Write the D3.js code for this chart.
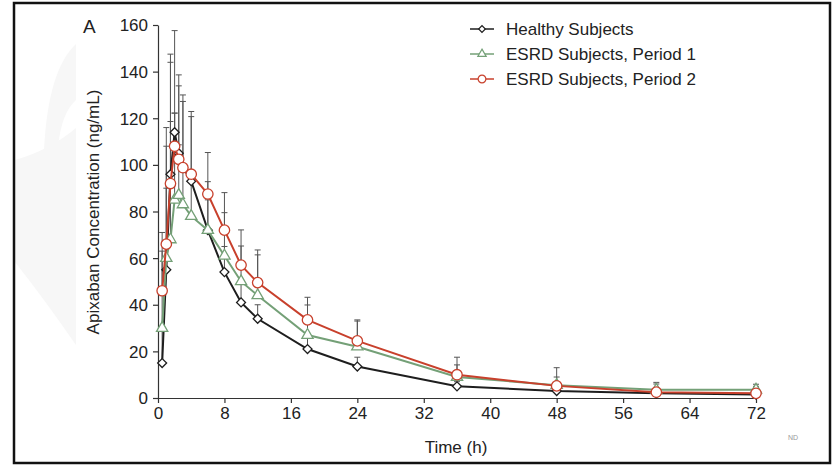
<!DOCTYPE html>
<html>
<head>
<meta charset="utf-8">
<script src="https://cdn.jsdelivr.net/npm/d3@7"></script>
<style>
	body { margin: 0; background: #fff; }
	text { font-family: "Liberation Sans", Arial, sans-serif; fill: #222; }
</style>
</head>
<body>
<div id="chart"></div>
<script>
// DATA
const times = [0.5, 1, 1.5, 2, 2.5, 3, 4, 6, 8, 10, 12, 18, 24, 36, 48, 60, 72];

const healthyMean  = [15, 55, 96, 114, 105, 99, 93, 72, 54, 41, 34, 21, 13.5, 5, 3, 2, 1.5];
const healthyUpper = [30, 116, 147.5, 157.6, 138.6, 127.2, 122.9, 92.8, 65, 50, 40, 27, 17.5, 7, 6, 3, 2];

const esrd1Mean  = [30, 60, 68, 85, 87, 83, 78, 72, 61, 50, 44, 27, 22, 9, 5.5, 3.5, 3.5];
const esrd1Upper = [63, 90, 118.6, 122.2, 108.6, 100, 95, 85, 79.5, 65.2, 61.4, 39.9, 33, 14.2, 9, 6, 5.9];

const esrd2Mean  = [46, 66, 92, 108, 102.4, 98.8, 96, 87.5, 72, 57, 49.5, 33.5, 24.5, 10, 5.2, 2.5, 2];
const esrd2Upper = [71, 108, 144, 122.2, 133.9, 130, 120.7, 105.3, 88.1, 72.1, 63.5, 43.2, 33.5, 17.5, 13, 6.7, 5];

const seriesNames = ["Healthy Subjects", "ESRD Subjects, Period 1", "ESRD Subjects, Period 2"];
const xTicks = [0, 8, 16, 24, 32, 40, 48, 56, 64, 72];
const yTicks = [0, 20, 40, 60, 80, 100, 120, 140, 160];

// D3.JS
// healthy diamond = square turned 45 degrees
const series = [
	{ name: seriesNames[0], mean: healthyMean, upper: healthyUpper, color: "#1e1e1e", shape: d3.symbolSquare, size: 40, rot: 45 },
	{ name: seriesNames[1], mean: esrd1Mean, upper: esrd1Upper, color: "#74a077", shape: d3.symbolTriangle, size: 55, rot: 0 },
	{ name: seriesNames[2], mean: esrd2Mean, upper: esrd2Upper, color: "#c8402c", shape: d3.symbolCircle, size: 85, rot: 0 }
];

const svg = d3.select("#chart")
	.append("svg")
	.attr("width", 834)
	.attr("height", 467);

// faint watermark on the left
svg.append("path")
	.attr("d", "M44,150 Q48,70 76,44 L76,100 Q62,112 58,146 Z")
	.attr("fill", "#f7f7f7");
svg.append("path")
	.attr("d", "M15,160 Q50,150 76,128 L76,345 Q45,300 15,262 Z")
	.attr("fill", "#f7f7f7");

// frame
svg.append("rect")
	.attr("x", 14)
	.attr("y", 3)
	.attr("width", 816)
	.attr("height", 460)
	.attr("fill", "none")
	.attr("stroke", "#111")
	.attr("stroke-width", 2.5);

const xScale = d3.scaleLinear()
	.domain([0, 72])
	.range([158, 756]);

const yScale = d3.scaleLinear()
	.domain([0, 160])
	.range([398, 25]);

const xAxis = d3.axisBottom(xScale)
	.tickValues(xTicks)
	.tickSize(5)
	.tickPadding(4)
	.tickSizeOuter(0);

const gx = svg.append("g")
	.attr("transform", "translate(0, 398)")
	.call(xAxis);

const yAxis = d3.axisLeft(yScale)
	.tickValues(yTicks)
	.tickSize(5)
	.tickPadding(5)
	.tickSizeOuter(0);

const gy = svg.append("g")
	.attr("transform", "translate(158, 0)")
	.call(yAxis);

[gx, gy].forEach(g => {
	g.selectAll("path, line").attr("stroke", "#333").attr("stroke-width", 1.2);
	g.selectAll("text")
		.style("font-family", "'Liberation Sans', Arial, sans-serif")
		.style("font-size", "17px")
		.attr("fill", "#222");
});
gy.selectAll("text").attr("dy", "0.35em");

// axis titles
svg.append("text")
	.attr("x", 456)
	.attr("y", 453)
	.attr("text-anchor", "middle")
	.style("font-size", "17px")
	.text("Time (h)");

svg.append("text")
	.attr("transform", "translate(99, 212) rotate(-90)")
	.attr("text-anchor", "middle")
	.style("font-size", "17px")
	.text("Apixaban Concentration (ng/mL)");

svg.append("text")
	.attr("x", 83)
	.attr("y", 33)
	.style("font-size", "19px")
	.text("A");

svg.append("text")
	.attr("x", 788)
	.attr("y", 440)
	.style("font-size", "7px")
	.style("fill", "#999")
	.text("ND");

// error bars (mean up to mean + SD)
series.forEach(s => {
	const g = svg.append("g").attr("stroke", "#555").attr("stroke-width", 1);
	times.forEach((t, i) => {
		const x = xScale(t);
		g.append("line")
			.attr("x1", x).attr("x2", x)
			.attr("y1", yScale(s.mean[i]))
			.attr("y2", yScale(s.upper[i]));
		g.append("line")
			.attr("x1", x - 3).attr("x2", x + 3)
			.attr("y1", yScale(s.upper[i]))
			.attr("y2", yScale(s.upper[i]));
	});
});

const line = d3.line()
	.x((d, i) => xScale(times[i]))
	.y(d => yScale(d));

series.forEach(s => {
	svg.append("path")
		.datum(s.mean)
		.attr("d", line)
		.attr("fill", "none")
		.attr("stroke", s.color)
		.attr("stroke-width", 2);

	svg.selectAll(null)
		.data(s.mean)
		.enter()
		.append("path")
		.attr("d", d3.symbol().type(s.shape).size(s.size))
		.attr("transform", (d, i) => `translate(${xScale(times[i])}, ${yScale(d)}) rotate(${s.rot})`)
		.attr("fill", "#fff")
		.attr("stroke", s.color)
		.attr("stroke-width", 1.3);
});

// legend
const legend = svg.append("g");
series.forEach((s, i) => {
	const y = 29 + i * 25;
	legend.append("line")
		.attr("x1", 470).attr("x2", 494)
		.attr("y1", y).attr("y2", y)
		.attr("stroke", s.color)
		.attr("stroke-width", 1.5);
	legend.append("path")
		.attr("d", d3.symbol().type(s.shape).size(s.size * 0.55))
		.attr("transform", `translate(482, ${y}) rotate(${s.rot})`)
		.attr("fill", "#fff")
		.attr("stroke", s.color)
		.attr("stroke-width", 1.2);
	legend.append("text")
		.attr("x", 506)
		.attr("y", y)
		.attr("dy", "0.35em")
		.style("font-size", "17px")
		.text(s.name);
});
</script>
</body>
</html>
